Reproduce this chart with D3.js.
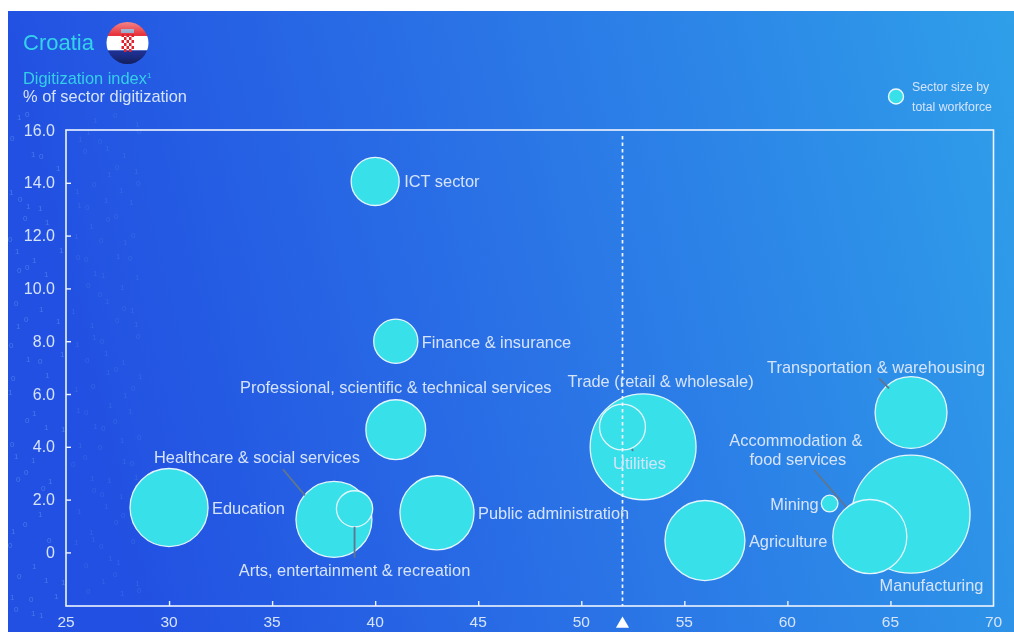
<!DOCTYPE html>
<html>
<head>
<meta charset="utf-8">
<script src="https://cdn.jsdelivr.net/npm/d3@7"></script>
<style>
  html, body { margin: 0; padding: 0; background: #fff; overflow: hidden; }
  svg { display: block; filter: blur(0.5px); }
  text { font-family: "Liberation Sans", Arial, sans-serif; }
</style>
</head>
<body>
<svg id="chart" width="1014" height="632"></svg>
<script>
// values
const sectors = ['ICT sector', 'Finance & insurance', 'Professional, scientific & technical services',
    'Education', 'Healthcare & social services', 'Arts, entertainment & recreation', 'Public administration',
    'Trade (retail & wholesale)', 'Utilities', 'Agriculture', 'Mining', 'Manufacturing',
    'Accommodation & food services', 'Transportation & warehousing'];
const laborShare = [40, 41, 41, 30, 38, 39, 43, 53, 52, 56, 62.05, 66, 64, 66];
const digitization = [14.05, 8.0, 4.65, 1.7, 1.25, 1.65, 1.5, 4.0, 4.75, 0.45, 1.85, 1.45, 0.6, 5.3];
const workforce = [58, 49, 90, 153, 145, 33, 138, 282, 53, 161, 7, 350, 138, 130];

const xTicks = [25, 30, 35, 40, 45, 50, 55, 60, 65, 70];
const yTicks = [0, 2, 4, 6, 8, 10, 12, 14, 16];
const average = 52;

// texture of faint binary digits on the left edge
const binaryRows = ['101101001', '010011010', '110100110', '001101101', '100110010', '011010101'];
const digitShift = [3, -4, 5, -2, -5, 2, 4, -3, 1];

const svg = d3.select('#chart');
const defs = svg.append('defs');

let bg = defs.append('linearGradient').attr('id', 'bg').attr('x1', 0).attr('x2', 1).attr('y1', 0.15).attr('y2', 0);
bg.append('stop').attr('offset', '0%').attr('stop-color', '#2250e2');
bg.append('stop').attr('offset', '45%').attr('stop-color', '#2a72e6');
bg.append('stop').attr('offset', '100%').attr('stop-color', '#2f9fe9');

svg.append('rect').attr('x', 8).attr('y', 11).attr('width', 1006).attr('height', 621).attr('fill', 'url(#bg)');

const x = d3.scaleLinear().domain([25, 70]).range([66, 993.5]);
const y = d3.scaleLinear().domain([-2.03, 16]).range([606, 130]);
const r = d3.scaleSqrt().domain([0, 350]).range([0, 59]);

const ink = '#d6e4fb';
const labelSize = 16.4;

// digits stay clear of the title block and the tick labels
function digitIsClear(px, py) {
    if (py < 112 && px < 195) return false;
    if (px > 14 && px < 62 && yTicks.some(t => py - y(t) > -7 && py - y(t) < 15)) return false;
    if (py > 600 && px > 45) return false;
    if (Math.abs(px - 66) < 5) return false;
    return true;
}
let digits = [];
d3.range(0, 36).forEach(row => {
    d3.range(0, 9).forEach(col => {
        if ((row * 3 + col * 5) % 4 == 0) return;
        let px = 13 + col * 15 + digitShift[(row + col) % 9];
        let py = 20 + row * 17 + digitShift[(row * 2 + col) % 9];
        if (digitIsClear(px, py)) {
            let line = binaryRows[row % binaryRows.length];
            digits.push({px, py, ch: line[col], fade: px < 62 ? 0.45 : 0.2});
        }
    });
});
svg.append('g').selectAll('text').data(digits).enter().append('text')
    .attr('x', d => d.px).attr('y', d => d.py)
    .attr('font-size', 8).attr('fill', '#6fa8f6').attr('opacity', d => d.fade)
    .text(d => d.ch);

// plot frame
svg.append('rect')
    .attr('x', x.range()[0]).attr('y', y.range()[1])
    .attr('width', x.range()[1] - x.range()[0]).attr('height', y.range()[0] - y.range()[1])
    .attr('fill', 'none').attr('stroke', '#eef4fe').attr('stroke-width', 1.6);

let xAxis = svg.append('g').attr('transform', `translate(0,${y.range()[0]})`)
    .call(d3.axisTop(x).tickValues(xTicks.slice(1, -1)).tickSize(5).tickFormat(''));
xAxis.select('.domain').remove();
xAxis.selectAll('line').attr('stroke', '#eef4fe').attr('stroke-width', 1.4);

let yAxis = svg.append('g').attr('transform', `translate(${x.range()[0]},0)`)
    .call(d3.axisRight(y).tickValues(yTicks.slice(0, -1)).tickSize(5).tickFormat(''));
yAxis.select('.domain').remove();
yAxis.selectAll('line').attr('stroke', '#eef4fe').attr('stroke-width', 1.4);

svg.append('g').selectAll('text').data(xTicks).enter().append('text')
    .attr('x', d => x(d)).attr('y', 627)
    .attr('text-anchor', 'middle').attr('font-size', 15.5).attr('fill', ink)
    .text(d => d);

svg.append('g').selectAll('text').data(yTicks).enter().append('text')
    .attr('x', 55).attr('y', d => y(d) + 5.5)
    .attr('text-anchor', 'end').attr('font-size', 16).attr('fill', ink)
    .text(d => d == 0 ? '0' : d3.format('.1f')(d));

// average marker
svg.append('path')
    .attr('d', d3.symbol(d3.symbolTriangle, 75))
    .attr('transform', `translate(${x(average)},624)`)
    .attr('fill', '#fff');

// bubbles, drawn in array order so the small ones sit on top
let bubbles = sectors.map((s, i) => ({s, i, x: laborShare[i], y: digitization[i], size: workforce[i]}));
svg.append('g').selectAll('circle').data(bubbles).enter().append('circle')
    .attr('cx', d => x(d.x)).attr('cy', d => y(d.y)).attr('r', d => r(d.size))
    .attr('fill', '#38e0e9').attr('stroke', '#e4f6fd').attr('stroke-width', 1.3);

// average line runs over the bubbles
svg.append('line')
    .attr('x1', x(average)).attr('x2', x(average)).attr('y1', 136).attr('y2', y.range()[0])
    .attr('stroke', '#f2f7ff').attr('stroke-width', 1.7).attr('stroke-dasharray', '3.5 3');

// leader lines, anchored on the sector they belong to
const leaders = [
    {sector: 4, dx1: -51, dy1: -50, dx2: -29, dy2: -24},
    {sector: 5, dx1: 0, dy1: 18, dx2: 0, dy2: 49},
    {sector: 8, dx1: 9.5, dy1: 22, dx2: 10.5, dy2: 24},
    {sector: 12, dx1: -55.6, dy1: -66.6, dx2: -23.6, dy2: -29.6},
    {sector: 13, dx1: -32, dy1: -34, dx2: -22, dy2: -24}
];
svg.append('g').selectAll('line').data(leaders).enter().append('line')
    .attr('x1', d => x(laborShare[d.sector]) + d.dx1)
    .attr('y1', d => y(digitization[d.sector]) + d.dy1)
    .attr('x2', d => x(laborShare[d.sector]) + d.dx2)
    .attr('y2', d => y(digitization[d.sector]) + d.dy2)
    .attr('stroke', '#5f7590').attr('stroke-width', 1.8);

// bubble labels, offset from their bubble
const labelSpots = [
    {i: 0, dx: 29, dy: 6, a: 'start'},
    {i: 1, dx: 26, dy: 7, a: 'start'},
    {i: 2, dx: 0, dy: -37, a: 'middle'},
    {i: 3, dx: 43, dy: 6, a: 'start'},
    {i: 4, dx: -77, dy: -56, a: 'middle'},
    {i: 5, dx: 0, dy: 67, a: 'middle'},
    {i: 6, dx: 41, dy: 6, a: 'start'},
    {i: 7, dx: 17.5, dy: -60, a: 'middle'},
    {i: 8, dx: 17, dy: 42, a: 'middle'},
    {i: 9, dx: 44, dy: 6, a: 'start'},
    {i: 10, dx: -11, dy: 6, a: 'end'},
    {i: 11, dx: 20.5, dy: 77, a: 'middle'},
    {i: 13, dx: -35, dy: -39, a: 'middle'}
];
svg.append('g').selectAll('text').data(labelSpots).enter().append('text')
    .attr('x', d => x(laborShare[d.i]) + d.dx)
    .attr('y', d => y(digitization[d.i]) + d.dy)
    .attr('text-anchor', d => d.a).attr('font-size', labelSize).attr('fill', ink)
    .text(d => sectors[d.i]);

// two line label
let accomm = svg.append('text').attr('text-anchor', 'middle').attr('font-size', labelSize).attr('fill', ink);
accomm.append('tspan').attr('x', x(64) - 74).attr('y', y(0.6) - 91).text('Accommodation &');
accomm.append('tspan').attr('x', x(64) - 72).attr('y', y(0.6) - 72).text('food services');

// title block
svg.append('text').attr('x', 23).attr('y', 50).attr('font-size', 22).attr('fill', '#35d3ea').text('Croatia');
let sub = svg.append('text').attr('x', 23).attr('y', 84).attr('font-size', labelSize).attr('fill', '#35cfea');
sub.append('tspan').text('Digitization index');
sub.append('tspan').attr('font-size', 8).attr('dy', -6).text('1');
svg.append('text').attr('x', 23).attr('y', 102).attr('font-size', labelSize).attr('fill', ink).text('% of sector digitization');

// flag badge
defs.append('clipPath').attr('id', 'flagClip').append('circle').attr('cx', 127.5).attr('cy', 43).attr('r', 21);
let sheen = defs.append('linearGradient').attr('id', 'sheen').attr('x1', 0).attr('x2', 0).attr('y1', 0).attr('y2', 1);
sheen.append('stop').attr('offset', '0%').attr('stop-color', '#fff').attr('stop-opacity', 0.4);
sheen.append('stop').attr('offset', '30%').attr('stop-color', '#fff').attr('stop-opacity', 0);
sheen.append('stop').attr('offset', '75%').attr('stop-color', '#000').attr('stop-opacity', 0);
sheen.append('stop').attr('offset', '100%').attr('stop-color', '#000').attr('stop-opacity', 0.35);

let flag = svg.append('g').attr('clip-path', 'url(#flagClip)');
flag.append('rect').attr('x', 106).attr('y', 22).attr('width', 43).attr('height', 14).attr('fill', '#e8343c');
flag.append('rect').attr('x', 106).attr('y', 36).attr('width', 43).attr('height', 14.5).attr('fill', '#fff');
flag.append('rect').attr('x', 106).attr('y', 50.5).attr('width', 43).attr('height', 14).attr('fill', '#1d2f8f');
flag.append('g').selectAll('rect')
    .data(d3.cross(d3.range(5), d3.range(6)).filter(d => (d[0] + d[1]) % 2 == 0))
    .enter().append('rect')
    .attr('x', d => 121.5 + d[0] * 2.5).attr('y', d => 34 + d[1] * 3)
    .attr('width', 2.5).attr('height', 3).attr('fill', '#e0222c');
flag.append('rect').attr('x', 121).attr('y', 29).attr('width', 13).attr('height', 4).attr('fill', '#8fa6c9');
flag.append('rect').attr('x', 106).attr('y', 22).attr('width', 43).attr('height', 42).attr('fill', 'url(#sheen)');

// size legend
svg.append('circle').attr('cx', 896).attr('cy', 96.5).attr('r', 7.5)
    .attr('fill', '#38e0e9').attr('stroke', '#eef8fe').attr('stroke-width', 1.4);
svg.append('text').attr('x', 912).attr('y', 91).attr('font-size', 12.3).attr('fill', ink).text('Sector size by');
svg.append('text').attr('x', 912).attr('y', 111).attr('font-size', 12.3).attr('fill', ink).text('total workforce');
</script>
</body>
</html>
